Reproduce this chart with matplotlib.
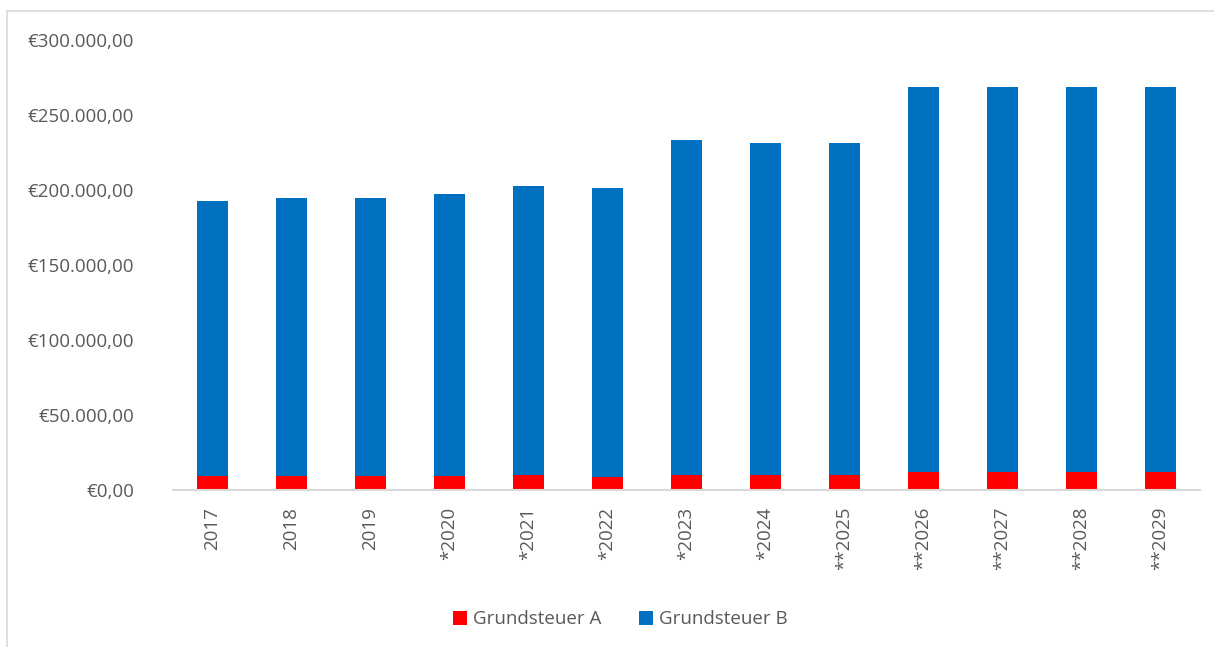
import matplotlib.pyplot as plt
from matplotlib.patches import Rectangle
from matplotlib.ticker import FuncFormatter
import numpy as np

plt.rcParams["font.family"] = ["Open Sans", "DejaVu Sans"]

jahre = ["2017", "2018", "2019", "*2020", "*2021", "*2022", "*2023",
         "*2024", "**2025", "**2026", "**2027", "**2028", "**2029"]
grundsteuer_a = [9300, 9300, 9300, 9300, 10000, 8900, 10200,
                 10000, 10200, 12200, 12200, 12200, 12200]
gesamt = [192500, 194900, 194700, 197600, 202800, 201300, 233500,
          231500, 231700, 268800, 268800, 268800, 268800]
grundsteuer_b = [g - a for g, a in zip(gesamt, grundsteuer_a)]

grau = "#595959"

fig = plt.figure(figsize=(12.14, 6.47), dpi=100)
ax = fig.add_axes([0.1425, 0.2427, 0.846, 0.6953])

x = np.arange(len(jahre))
ax.bar(x, grundsteuer_a, width=0.4, color="#ff0000", label="Grundsteuer A")
ax.bar(x, grundsteuer_b, width=0.4, bottom=grundsteuer_a, color="#0070c0",
       label="Grundsteuer B")

ax.set_xlim(-0.5, len(jahre) - 0.5)
ax.set_ylim(0, 300000)
ax.set_yticks(np.arange(0, 300001, 50000))


def euro(v, pos):
    s = f"{v:,.2f}".replace(",", "X").replace(".", ",").replace("X", ".")
    return "€" + s


ax.yaxis.set_major_formatter(FuncFormatter(euro))
ax.set_xticks(x)
ax.set_xticklabels(jahre, rotation=90)
ax.tick_params(axis="both", length=0, labelsize=13.5, colors=grau)
ax.tick_params(axis="y", pad=28)
ax.tick_params(axis="x", pad=12)

for s in ["top", "right", "left"]:
    ax.spines[s].set_visible(False)
ax.spines["bottom"].set_color("#d9d9d9")
ax.spines["bottom"].set_linewidth(1.5)

leg = fig.legend(loc="center", bbox_to_anchor=(0.511, 0.043), ncol=2,
                 frameon=False, fontsize=13.5, handlelength=0.75,
                 handleheight=0.75, columnspacing=2.0, handletextpad=0.3)
for t in leg.get_texts():
    t.set_color(grau)

fig.patches.append(Rectangle((7 / 1214, -0.1), 1.2, 1 - 11 / 647 + 0.1,
                             transform=fig.transFigure, fill=False,
                             edgecolor="#d9d9d9", linewidth=1.2))

fig.savefig("out.png", dpi=100)
